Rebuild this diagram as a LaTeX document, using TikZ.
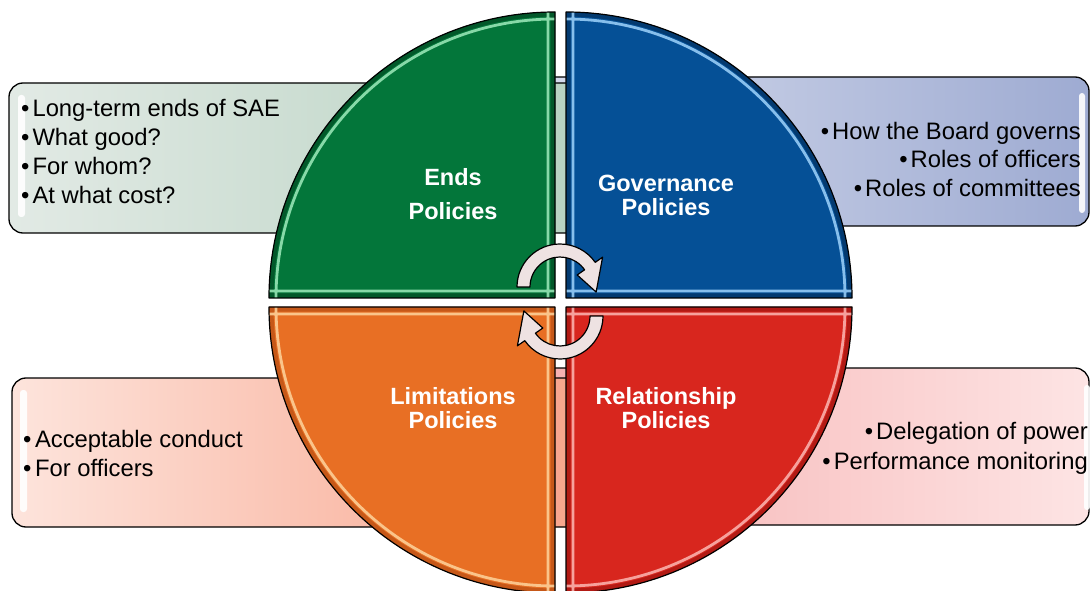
\documentclass[tikz,border=0pt]{standalone}
\usepackage{fontspec}
\setmainfont{Liberation Sans}
\definecolor{qgreen}{RGB}{3,118,58}
\definecolor{qgreendark}{RGB}{2,88,42}
\definecolor{qgreenlight}{RGB}{150,228,180}
\definecolor{qblue}{RGB}{5,80,150}
\definecolor{qbluedark}{RGB}{3,58,112}
\definecolor{qbluelight}{RGB}{150,204,246}
\definecolor{qorange}{RGB}{232,111,36}
\definecolor{qorangedark}{RGB}{198,88,24}
\definecolor{qorangelight}{RGB}{252,206,150}
\definecolor{qred}{RGB}{216,38,30}
\definecolor{qreddark}{RGB}{178,26,20}
\definecolor{qredlight}{RGB}{250,175,170}
\definecolor{gboxL}{RGB}{226,234,229}
\definecolor{gboxR}{RGB}{175,205,186}
\definecolor{bboxL}{RGB}{225,229,242}
\definecolor{bboxR}{RGB}{158,171,210}
\definecolor{oboxL}{RGB}{253,228,220}
\definecolor{oboxR}{RGB}{246,150,122}
\definecolor{rboxL}{RGB}{244,165,165}
\definecolor{rboxR}{RGB}{253,228,228}
\definecolor{arrowfill}{RGB}{238,226,226}
\newcommand\pquad[4]{%
\begin{scope}[shift={(#1,#2)}, rotate=#3]
 \begin{scope}
  \clip (0,0) -- (-286,0) arc[start angle=180,end angle=90,radius=286] -- cycle;
  \fill[#4] (-300,-10) rectangle (10,300);
  \draw[#4dark, line width=9pt] (0,0) -- (-286,0) arc[start angle=180,end angle=90,radius=286] -- cycle;
  \draw[#4light, line width=2.8pt, opacity=.9] (-279,0) arc[start angle=180,end angle=90,radius=279]
     (-7,0) -- (-7,290) (0,7) -- (-290,7);
 \end{scope}
 \draw[line width=1.2pt, line join=round] (0,0) -- (-286,0) arc[start angle=180,end angle=90,radius=286] -- cycle;
\end{scope}}
\tikzset{
 boxpath/.style={draw=black, line width=1.3pt, rounded corners=14pt},
 boxtext/.style={inner sep=0pt, text=black, font=\fontsize{23.8}{29}\selectfont},
 quadlabel/.style={inner sep=0pt, align=center, text=white, font=\fontsize{23.5}{24}\selectfont\bfseries},
 glossbar/.style={fill=white, opacity=0.9, rounded corners=3pt},
 cyclearrow/.style={fill=arrowfill, draw=black, line width=1.2pt, line join=round},
}
\begin{document}
\begin{tikzpicture}[x=1pt,y=1pt]
\useasboundingbox (0,0) rectangle (1090,590);
\fill[white] (0,0) rectangle (1090,590);
% side boxes (they run on behind the circle)
\path[boxpath, left color=bboxL, right color=bboxR] (420,364) rectangle (1089,513);
\path[boxpath, left color=gboxL, right color=gboxR] (9,357) rectangle (700,507);
\path[boxpath, left color=rboxL, right color=rboxR] (420,65) rectangle (1089,222);
\path[boxpath, left color=oboxL, right color=oboxR] (12,63) rectangle (700,212);
\fill[glossbar] (18,373) rectangle (25,495);
\fill[glossbar] (1079,377) rectangle (1085,497);
\fill[glossbar] (20,78) rectangle (27,200);
\fill[glossbar] (1084,80) rectangle (1090,205);
% quadrants
\pquad{555}{292}{0}{qgreen}
\pquad{566}{292}{-90}{qblue}
\pquad{555}{283}{90}{qorange}
\pquad{566}{283}{180}{qred}
% cycle arrows
\begin{scope}[shift={(560,303)}]
 \draw[cyclearrow] (180:43) arc[start angle=180,end angle=35,radius=43] -- (35:52) -- (-8:36.5) -- (35:21) -- (35:30) arc[start angle=35,end angle=180,radius=30] -- cycle;
\end{scope}
\begin{scope}[shift={(560,274)}, rotate=180]
 \draw[cyclearrow] (180:43) arc[start angle=180,end angle=35,radius=43] -- (35:52) -- (-8:36.5) -- (35:21) -- (35:30) arc[start angle=35,end angle=180,radius=30] -- cycle;
\end{scope}
% labels
\node[quadlabel, font=\fontsize{23.5}{34}\selectfont\bfseries] (ends) at (453,395.5) {Ends\\Policies};
\node[quadlabel] (gov) at (666,395) {Governance\\Policies};
\node[quadlabel] (lim) at (453,182) {Limitations\\Policies};
\node[quadlabel] (rel) at (666,182) {Relationship\\Policies};
% box texts
\node[boxtext, anchor=north west, align=left] (endsTxt) at (21,491) {•\hspace{3pt}Long-term ends of SAE\\•\hspace{3pt}What good?\\•\hspace{3pt}For whom?\\•\hspace{3pt}At what cost?};
\node[boxtext, anchor=north east, align=right, font=\fontsize{23.8}{28.5}\selectfont] (govTxt) at (1081,468) {•\hspace{3pt}How the Board governs\\•\hspace{3pt}Roles of officers\\•\hspace{3pt}Roles of committees};
\node[boxtext, anchor=north west, align=left] (limTxt) at (23,160) {•\hspace{3.5pt}Acceptable conduct\\•\hspace{3.5pt}For officers};
\node[boxtext, anchor=north east, align=right, font=\fontsize{23.8}{30}\selectfont] (relTxt) at (1088,168) {•\hspace{3pt}Delegation of power\\•\hspace{3pt}Performance monitoring};
\end{tikzpicture}
\end{document}
